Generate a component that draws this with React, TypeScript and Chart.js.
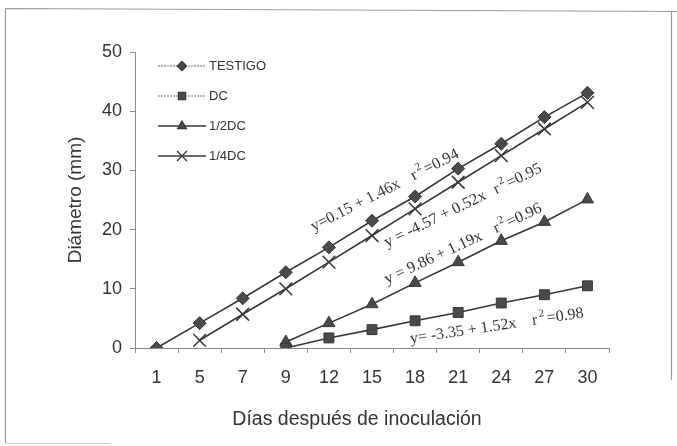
import React, { useEffect, useRef } from 'react';
import { Chart, registerables } from 'chart.js';
import { drawPoint } from 'chart.js/helpers';

Chart.register(...registerables);

// Days after inoculation (category axis)
const days = ['1', '5', '7', '9', '12', '15', '18', '21', '24', '27', '30'];

// Lesion diameter (mm) per treatment
const testigo = [0, 4.2, 8.4, 12.8, 17.0, 21.5, 25.6, 30.3, 34.5, 39.0, 43.1];
const dc = [null, null, null, 0, 1.7, 3.1, 4.6, 6.0, 7.6, 9.0, 10.5];
const halfDc = [null, null, null, 1.0, 4.2, 7.4, 11.0, 14.5, 18.1, 21.3, 25.1];
const quarterDc = [null, 1.3, 5.7, 10.0, 14.5, 19.0, 23.5, 28.0, 32.5, 37.0, 41.5];

const seriesNames = ['TESTIGO', 'DC', '1/2DC', '1/4DC'];
const seriesData = [testigo, dc, halfDc, quarterDc];
const pointStyles = ['rectRot', 'rect', 'triangle', 'crossRot'];
const pointRadii = [6.5, 7, 7, 9];
const legendRadii = [4.5, 5, 5, 7];
const legendDashed = [true, true, false, false];

const yMin = 0;
const yMax = 50;
const yStep = 10;

// Fitted regression equations written along the curves
const eqTexts = ['y=0.15 + 1.46x', 'y = -4.57 + 0.52x', 'y = 9.86 + 1.19x', 'y= -3.35 + 1.52x'];
const r2Values = ['0.94', '0.95', '0.96', '0.98'];
const eqAtDay = [3.65, 5.35, 5.35, 5.9];
const eqAtValue = [19.7, 17.0, 10.8, 0.8];
const eqAngles = [-27, -26, -25, -8.5];
const eqGaps = [14, 10, 14, 16];

const xTitle = 'Días después de inoculación';
const yTitle = 'Diámetro (mm)';

const SANS = '"Liberation Sans", Arial, Helvetica, sans-serif';
const SERIF = '"Liberation Serif", "Times New Roman", serif';
const INK = '#363636';
const AXIS = '#8a8a8a';

const framePlugin = {
  id: 'frame',
  beforeDraw(chart: any) {
    const ctx = chart.ctx;
    ctx.save();
    ctx.fillStyle = '#ffffff';
    ctx.fillRect(0, 0, chart.width, chart.height);
    ctx.strokeStyle = '#9a9a9a';
    ctx.lineWidth = 1.2;
    ctx.beginPath();
    ctx.moveTo(5.5, 443);
    ctx.lineTo(5.5, 8.5);
    ctx.lineTo(677, 11.5);
    ctx.moveTo(671.5, 11.5);
    ctx.lineTo(671.5, 380);
    ctx.stroke();
    ctx.strokeStyle = '#d0d0d0';
    ctx.beginPath();
    ctx.moveTo(5.5, 443.5);
    ctx.lineTo(110, 443.5);
    ctx.stroke();
    ctx.restore();
  },
};

const annotationPlugin = {
  id: 'annotations',
  afterDatasetsDraw(chart: any) {
    const ctx = chart.ctx;
    const xs = chart.scales.x;
    const ys = chart.scales.y;
    const area = chart.chartArea;

    ctx.save();
    // regression equations with r squared (superscript drawn smaller and raised)
    ctx.fillStyle = '#333333';
    ctx.textBaseline = 'alphabetic';
    ctx.textAlign = 'left';
    eqTexts.forEach((t, i) => {
      const px = xs.getPixelForValue(eqAtDay[i]);
      const py = ys.getPixelForValue(eqAtValue[i]);
      ctx.save();
      ctx.translate(px, py);
      ctx.rotate((eqAngles[i] * Math.PI) / 180);
      ctx.font = `16px ${SERIF}`;
      ctx.fillText(t, 0, 0);
      let x = ctx.measureText(t).width + eqGaps[i];
      ctx.fillText('r', x, 0);
      x += ctx.measureText('r').width + 2;
      ctx.font = `11px ${SERIF}`;
      ctx.fillText('2', x, -7);
      x += ctx.measureText('2').width + 2;
      ctx.font = `16px ${SERIF}`;
      ctx.fillText('=' + r2Values[i], x, 0);
      ctx.restore();
    });

    // legend in the upper-left of the plot
    seriesNames.forEach((name, i) => {
      const y = area.top + 14 + i * 30;
      const x0 = area.left + 23;
      const x1 = area.left + 71;
      ctx.save();
      ctx.strokeStyle = legendDashed[i] ? '#707070' : INK;
      ctx.lineWidth = legendDashed[i] ? 1.2 : 1.5;
      ctx.setLineDash(legendDashed[i] ? [2, 1] : []);
      ctx.beginPath();
      ctx.moveTo(x0, y);
      ctx.lineTo(x1, y);
      ctx.stroke();
      ctx.setLineDash([]);
      ctx.fillStyle = '#4a4a4a';
      ctx.strokeStyle = INK;
      ctx.lineWidth = 1.3;
      drawPoint(ctx, { pointStyle: pointStyles[i], radius: legendRadii[i], rotation: 0, borderWidth: 1 } as any, (x0 + x1) / 2, y);
      ctx.restore();
      ctx.font = `13px ${SANS}`;
      ctx.fillStyle = '#333333';
      ctx.textBaseline = 'middle';
      ctx.textAlign = 'left';
      ctx.fillText(name, x1 + 3, y + 0.5);
    });

    // axis titles
    ctx.fillStyle = '#333333';
    ctx.textAlign = 'center';
    ctx.textBaseline = 'middle';
    ctx.font = `19.5px ${SANS}`;
    ctx.fillText(xTitle, 357, 420);
    ctx.save();
    ctx.translate(75.5, (area.top + area.bottom) / 2);
    ctx.rotate(-Math.PI / 2);
    ctx.font = `19px ${SANS}`;
    ctx.fillText(yTitle, 0, 0);
    ctx.restore();
    ctx.restore();
  },
};

export default function App() {
  const canvasRef = useRef<HTMLCanvasElement | null>(null);

  useEffect(() => {
    const canvas = canvasRef.current;
    if (!canvas) return;

    const datasets = seriesNames.map((name, i) => ({
      label: name,
      data: seriesData[i],
      borderColor: INK,
      borderWidth: 1.6,
      backgroundColor: '#4a4a4a',
      pointStyle: pointStyles[i],
      pointRadius: pointRadii[i],
      pointBackgroundColor: '#4a4a4a',
      pointBorderColor: INK,
      pointBorderWidth: i === 3 ? 1.5 : 1,
      tension: 0,
      spanGaps: false,
      fill: false,
    }));

    const chart = new Chart(canvas, {
      type: 'line',
      data: { labels: days, datasets: datasets as any },
      options: {
        responsive: false,
        animation: false,
        devicePixelRatio: 1,
        layout: { padding: { top: 52, right: 68, left: 0, bottom: 0 } },
        plugins: {
          legend: { display: false },
          tooltip: { enabled: false },
          title: { display: false },
        },
        scales: {
          x: {
            type: 'category',
            offset: true,
            grid: {
              display: true,
              drawOnChartArea: false,
              drawTicks: true,
              tickLength: 5,
              color: AXIS,
              offset: true,
            },
            border: { display: true, color: AXIS, width: 1 },
            ticks: {
              font: { family: SANS, size: 18 },
              color: '#333333',
              padding: 14,
              maxRotation: 0,
              autoSkip: false,
            },
            afterFit: (s: any) => {
              s.height = 98;
            },
          },
          y: {
            min: yMin,
            max: yMax,
            grid: {
              display: true,
              drawOnChartArea: false,
              drawTicks: true,
              tickLength: 5,
              color: AXIS,
            },
            border: { display: true, color: AXIS, width: 1 },
            ticks: {
              stepSize: yStep,
              font: { family: SANS, size: 18 },
              color: '#333333',
              padding: 8,
            },
            afterFit: (s: any) => {
              s.width = 135;
            },
          },
        },
      },
      plugins: [framePlugin, annotationPlugin],
    });

    return () => {
      chart.destroy();
    };
  }, []);

  return (
    <div style={{ position: 'fixed', left: 0, top: 0, width: 677, height: 446, background: '#fff' }}>
      <canvas ref={canvasRef} width={677} height={446} style={{ display: 'block' }} />
    </div>
  );
}
